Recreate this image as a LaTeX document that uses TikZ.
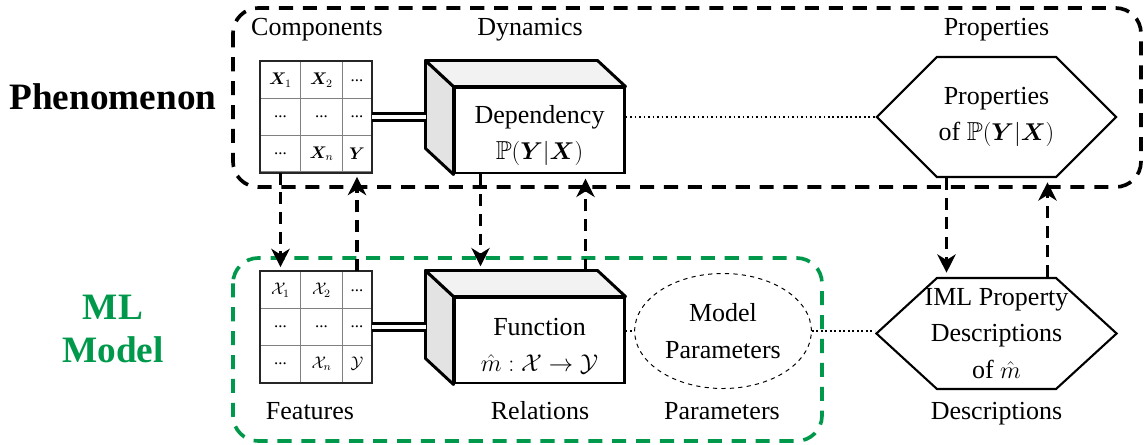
\documentclass[tikz,border=0pt]{standalone}
\usepackage{amsmath,amssymb,bm}
\usepackage{fontspec}
\setmainfont{Liberation Serif}
\usetikzlibrary{calc}
\usetikzlibrary{matrix}
\usetikzlibrary{arrows.meta}
\usetikzlibrary{shapes.symbols,shapes.geometric}

\definecolor{mlgreen}{RGB}{0,153,76}

\tikzset{
  headline/.style={font=\fontsize{26.5}{30}\selectfont\bfseries, align=center},
  groupbox/.style={line width=2.6pt, dash pattern=on 10pt off 7pt, rounded corners=18pt},
  celltable/.style={matrix of math nodes, inner sep=0pt, column sep=-0.8pt, row sep=-0.8pt,
    nodes={draw=gray, line width=0.8pt, anchor=center, inner sep=0pt,
      minimum height=0.9175cm, font=\fontsize{12}{14}\selectfont},
    column 1/.style={nodes={minimum width=1cm}},
    column 2/.style={nodes={minimum width=1.05cm}},
    column 3/.style={nodes={minimum width=0.725cm}}},
  tableframe/.style={draw=black!85, line width=1.3pt},
  frontface/.style={draw, line width=2.1pt, fill=white, align=center, inner sep=0pt,
    minimum width=4.225cm, minimum height=2.125cm},
  sideface/.style={draw, line width=2.1pt, line join=round, fill=gray!22},
  topface/.style={draw, line width=2.1pt, line join=round, fill=gray!10},
  hexa/.style={draw, line width=1.5pt, signal, signal to=west and east,
    inner xsep=1.4875cm, inner ysep=0pt},
  paramell/.style={draw, ellipse, dashed, line width=0.7pt, align=center,
    minimum width=4.25cm, minimum height=2.875cm},
  lbl/.style={anchor=base},
  dbl/.style={double, line width=2.3pt, double distance=3.2pt},
  dotline/.style={dotted, line width=1.2pt},
  flow/.style={line width=2.6pt, dash pattern=on 8.5pt off 5.5pt, shorten >=3pt,
    -{Stealth[length=13pt,width=13pt,inset=4pt]}}
}
\newcommand{\toppad}{\rule{0pt}{20pt}}

\begin{document}
\begin{tikzpicture}[x=0.025cm, y=-0.025cm, font=\fontsize{18.5}{26}\selectfont]
\useasboundingbox (0,0) rectangle (1145,445);

\draw[groupbox] (233,8) rectangle (1141,187);
\draw[groupbox, draw=mlgreen] (233,258) rectangle (822,441);

\node[headline] (phen) at (113,97) {Phenomenon};
\node[headline, text=mlgreen] (ml) at (113,329) {ML\\Model};

% tables
\matrix (comps) at (316,117) [celltable] {
  \bm{X}_1    & \bm{X}_2    & \text{...} \\
  \text{...}  & \text{...}  & \text{...} \\
  \text{...}  & \bm{X}_n    & \bm{Y} \\
};
\matrix (feats) at (316,327) [celltable] {
  \mathcal{X}_1 & \mathcal{X}_2 & \text{...} \\
  \text{...}    & \text{...}    & \text{...} \\
  \text{...}    & \mathcal{X}_n & \mathcal{Y} \\
};
\draw[tableframe] (comps.north west) rectangle (comps.south east);
\draw[tableframe] (feats.north west) rectangle (feats.south east);

% boxes
\node[frontface] (dep) at (539.5,130.5) {\toppad Dependency\\$\mathbb{P}(\bm{Y}|\bm{X})$};
\draw[sideface] (dep.north west) -- ++(-28,-26) -- ($(dep.south west)+(-28,-26)$) -- (dep.south west) -- cycle;
\draw[topface] (dep.north west) -- ++(-28,-26) -- ($(dep.north east)+(-28,-26)$) -- (dep.north east) -- cycle;

\node[frontface] (fun) at (539.5,340.5) {\toppad Function\\$\hat{m}:\mathcal{X}\rightarrow\mathcal{Y}$};
\draw[sideface] (fun.north west) -- ++(-28,-26) -- ($(fun.south west)+(-28,-26)$) -- (fun.south west) -- cycle;
\draw[topface] (fun.north west) -- ++(-28,-26) -- ($(fun.north east)+(-28,-26)$) -- (fun.north east) -- cycle;

\coordinate (depback) at ($(dep.west)+(-28,0)$);
\coordinate (funback) at ($(fun.west)+(-28,0)$);
\coordinate (funtop) at ($(fun.north)+(0,-26)$);

\node[paramell] (par) at (723,331) {Model\\Parameters};

% hexagons
\node[hexa, minimum height=3cm, signal pointer angle=90] (prop) at (996.5,117) {};
\node[align=center] (proptxt) at (prop.center) {Properties\\of $\mathbb{P}(\bm{Y}|\bm{X})$};
\node[hexa, minimum height=2.775cm, signal pointer angle=85] (desc) at (996.5,333.5) {};
\node[align=center] (desctxt) at (desc.center) {IML Property\\Descriptions\\of $\hat{m}$};

% labels
\node[lbl] (lcomp) at (317,36) {Components};
\node[lbl] (ldyn) at (530,36) {Dynamics};
\node[lbl] (lprop) at (996.5,36) {Properties};
\node[lbl] (lfeat) at (310,419) {Features};
\node[lbl] (lrel) at (540,419) {Relations};
\node[lbl] (lpar) at (722,419) {Parameters};
\node[lbl] (ldesc) at (996.5,419) {Descriptions};

% connectors
\draw[dbl] (comps.east) -- (comps.east -| depback);
\draw[dbl] (feats.east) -- (feats.east -| funback);
\draw[dotline] (dep.east |- prop.west) -- (prop.west);
\draw[dotline] (fun.east |- par.west) -- (par.west);
\draw[dotline] (par.east) -- (par.east -| desc.west);

\draw[flow] (comps-3-1.south) -- (feats-1-1.north);
\draw[flow] (feats-1-3.north) -- (comps-3-3.south);
\draw[flow] ($(dep.south west)+(27,0)$) coordinate (a) -- (a |- funtop);
\draw[flow] ($(dep.south east)+(-40,0)$) coordinate (b) (b |- funtop) -- (b);
\draw[flow] ($(prop.south)+(-50,0)$) -- ($(desc.north)+(-50,0)$);
\draw[flow] ($(desc.north)+(51,0)$) -- ($(prop.south)+(51,0)$);
\end{tikzpicture}
\end{document}
